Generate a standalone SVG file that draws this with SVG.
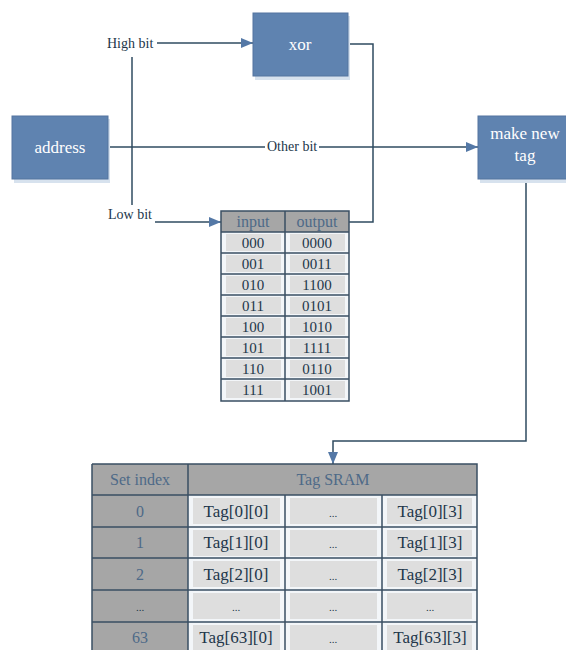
<svg xmlns="http://www.w3.org/2000/svg" width="566" height="650" viewBox="0 0 566 650">
  <style>
    text { font-family: "Liberation Serif", "DejaVu Serif", "Times New Roman", serif; }
    .box { fill: #5f83b0; stroke: #54759f; stroke-width: 1; }
    .shadow { fill: #d7e2ee; }
    .boxlabel { font-size: 17px; fill: #ffffff; text-anchor: middle; }
    .wire { fill: none; stroke: #2f4b60; stroke-width: 1.5; }
    .wlabel { font-size: 14px; fill: #22364a; }
    .grid { fill: none; stroke: #3a4f63; stroke-width: 1.5; }
    .hdr { fill: #a6a6a6; }
    .cellbg { fill: #f3f6f9; }
    .cell { fill: #dedede; }
    .hdrtxt { font-size: 16px; fill: #4e6a88; text-anchor: middle; }
    .ttxt { font-size: 15px; fill: #22364a; text-anchor: middle; }
    .tagtxt { font-size: 17px; fill: #22364a; text-anchor: middle; }
    .dots { font-size: 11px; fill: #22364a; text-anchor: middle; }
  </style>
  <defs>
    <marker id="arrow" viewBox="0 0 12 10" refX="12" refY="5" markerWidth="12" markerHeight="10" markerUnits="userSpaceOnUse" orient="auto">
      <path d="M0,0 L12,5 L0,10 Z" fill="#5478a6"/>
    </marker>
  </defs>

  <rect width="566" height="650" fill="#ffffff"/>

  <!-- connectors -->
  <g id="connectors">
    <!-- address to make new tag (other bits) -->
    <path class="wire" d="M108,147 H265"/>
    <path class="wire" d="M319,147 H478" marker-end="url(#arrow)"/>
    <!-- bit split trunk -->
    <path class="wire" d="M132,57 V205"/>
    <!-- high bit to xor -->
    <path class="wire" d="M157,43 H253" marker-end="url(#arrow)"/>
    <!-- low bit to lookup table -->
    <path class="wire" d="M155,222 H221" marker-end="url(#arrow)"/>
    <!-- xor output and table output merge -->
    <path class="wire" d="M348,44 H373 V222 H349"/>
    <!-- make new tag to Tag SRAM -->
    <path class="wire" d="M526,179 V441 H333 V464" marker-end="url(#arrow)"/>
    <text class="wlabel" x="107" y="48">High bit</text>
    <text class="wlabel" x="267" y="151">Other bit</text>
    <text class="wlabel" x="108" y="219">Low bit</text>
  </g>

  <!-- address -->
  <g id="address">
    <rect class="shadow" x="14" y="119" width="96" height="64"/>
    <rect class="box" x="12" y="116" width="96" height="63"/>
    <text class="boxlabel" x="60" y="153">address</text>
  </g>

  <!-- xor -->
  <g id="xor">
    <rect class="shadow" x="255" y="16" width="95" height="64"/>
    <rect class="box" x="253" y="13" width="95" height="63"/>
    <text class="boxlabel" x="300" y="50">xor</text>
  </g>

  <!-- make new tag -->
  <g id="make-new-tag">
    <rect class="shadow" x="480" y="119" width="90" height="64"/>
    <rect class="box" x="478" y="116" width="90" height="63"/>
    <text class="boxlabel" x="525" y="139">make new</text>
    <text class="boxlabel" x="525" y="161">tag</text>
  </g>

  <!-- lookup table: input / output -->
  <g id="lookup-table">
    <rect class="hdr" x="221" y="211" width="128" height="21"/>
    <rect class="cellbg" x="221" y="232" width="128" height="169"/>
    <g class="cells">
      <rect class="cell" x="226" y="234" width="55" height="17"/>
      <rect class="cell" x="290" y="234" width="55" height="17"/>
      <rect class="cell" x="226" y="255" width="55" height="17"/>
      <rect class="cell" x="290" y="255" width="55" height="17"/>
      <rect class="cell" x="226" y="276" width="55" height="17"/>
      <rect class="cell" x="290" y="276" width="55" height="17"/>
      <rect class="cell" x="226" y="297" width="55" height="17"/>
      <rect class="cell" x="290" y="297" width="55" height="17"/>
      <rect class="cell" x="226" y="318" width="55" height="17"/>
      <rect class="cell" x="290" y="318" width="55" height="17"/>
      <rect class="cell" x="226" y="339" width="55" height="17"/>
      <rect class="cell" x="290" y="339" width="55" height="17"/>
      <rect class="cell" x="226" y="360" width="55" height="17"/>
      <rect class="cell" x="290" y="360" width="55" height="17"/>
      <rect class="cell" x="226" y="381" width="55" height="17"/>
      <rect class="cell" x="290" y="381" width="55" height="17"/>
    </g>
    <path class="grid" d="M221,211 H349 V401 H221 Z M285,211 V401 M221,232 H349 M221,253 H349 M221,274 H349 M221,295 H349 M221,316 H349 M221,337 H349 M221,358 H349 M221,379 H349"/>
    <text class="hdrtxt" x="253" y="227">input</text>
    <text class="hdrtxt" x="317" y="227">output</text>
    <text class="ttxt" x="253" y="248">000</text><text class="ttxt" x="317" y="248">0000</text>
    <text class="ttxt" x="253" y="269">001</text><text class="ttxt" x="317" y="269">0011</text>
    <text class="ttxt" x="253" y="290">010</text><text class="ttxt" x="317" y="290">1100</text>
    <text class="ttxt" x="253" y="311">011</text><text class="ttxt" x="317" y="311">0101</text>
    <text class="ttxt" x="253" y="332">100</text><text class="ttxt" x="317" y="332">1010</text>
    <text class="ttxt" x="253" y="353">101</text><text class="ttxt" x="317" y="353">1111</text>
    <text class="ttxt" x="253" y="374">110</text><text class="ttxt" x="317" y="374">0110</text>
    <text class="ttxt" x="253" y="395">111</text><text class="ttxt" x="317" y="395">1001</text>
  </g>

  <!-- Tag SRAM table -->
  <g id="tag-sram">
    <rect class="hdr" x="92" y="464" width="385" height="31"/>
    <rect class="hdr" x="92" y="495" width="96" height="160"/>
    <rect class="cellbg" x="188" y="495" width="289" height="160"/>
    <g class="cells">
      <rect class="cell" x="193" y="498" width="87" height="26"/>
      <rect class="cell" x="290" y="498" width="87" height="26"/>
      <rect class="cell" x="387" y="498" width="85" height="26"/>
      <rect class="cell" x="193" y="530" width="87" height="26"/>
      <rect class="cell" x="290" y="530" width="87" height="26"/>
      <rect class="cell" x="387" y="530" width="85" height="26"/>
      <rect class="cell" x="193" y="561" width="87" height="26"/>
      <rect class="cell" x="290" y="561" width="87" height="26"/>
      <rect class="cell" x="387" y="561" width="85" height="26"/>
      <rect class="cell" x="193" y="593" width="87" height="26"/>
      <rect class="cell" x="290" y="593" width="87" height="26"/>
      <rect class="cell" x="387" y="593" width="85" height="26"/>
      <rect class="cell" x="193" y="625" width="87" height="26"/>
      <rect class="cell" x="290" y="625" width="87" height="26"/>
      <rect class="cell" x="387" y="625" width="85" height="26"/>
    </g>
    <path class="grid" d="M92,464 H477 V655 M92,464 V655 M188,464 V655 M285,495 V655 M382,495 V655 M92,495 H477 M92,527 H477 M92,558 H477 M92,590 H477 M92,622 H477"/>
    <text class="hdrtxt" x="140" y="485">Set index</text>
    <text class="hdrtxt" x="333" y="485">Tag SRAM</text>
    <text class="hdrtxt" x="140" y="517">0</text>
    <text class="hdrtxt" x="140" y="548">1</text>
    <text class="hdrtxt" x="140" y="580">2</text>
    <text class="dots" x="140" y="611">...</text>
    <text class="hdrtxt" x="140" y="643">63</text>
    <text class="tagtxt" x="236" y="517">Tag[0][0]</text><text class="dots" x="333" y="517">...</text><text class="tagtxt" x="430" y="517">Tag[0][3]</text>
    <text class="tagtxt" x="236" y="548">Tag[1][0]</text><text class="dots" x="333" y="548">...</text><text class="tagtxt" x="430" y="548">Tag[1][3]</text>
    <text class="tagtxt" x="236" y="580">Tag[2][0]</text><text class="dots" x="333" y="580">...</text><text class="tagtxt" x="430" y="580">Tag[2][3]</text>
    <text class="dots" x="236" y="611">...</text><text class="dots" x="333" y="611">...</text><text class="dots" x="430" y="611">...</text>
    <text class="tagtxt" x="236" y="643">Tag[63][0]</text><text class="dots" x="333" y="643">...</text><text class="tagtxt" x="430" y="643">Tag[63][3]</text>
  </g>
</svg>
